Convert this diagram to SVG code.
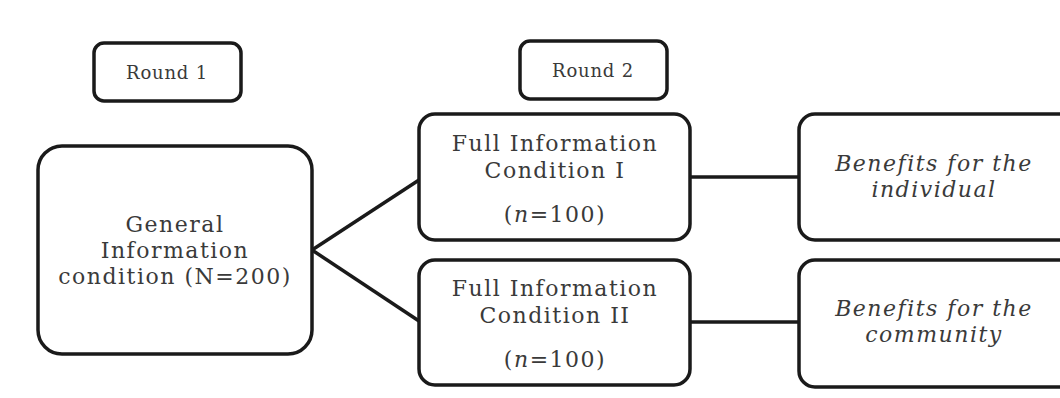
<svg xmlns="http://www.w3.org/2000/svg" width="1060" height="398" viewBox="0 0 1060 398">
<style>
.box{fill:#ffffff;stroke:#1a1a1a;stroke-width:3.5}
.t{font-family:"DejaVu Serif","Liberation Serif",serif;fill:#3a3a3a;text-anchor:middle}
.lbl{font-size:18px;letter-spacing:0.8px}
.m{font-size:22px;letter-spacing:1.5px}
.it{font-style:italic}
.conn{stroke:#1a1a1a;stroke-width:3.5;fill:none}
</style>
<rect width="1060" height="398" fill="#ffffff"/>
<g id="connectors">
<line class="conn" x1="312" y1="250" x2="419" y2="180"/>
<line class="conn" x1="312" y1="250" x2="419" y2="321"/>
<line class="conn" x1="690" y1="177" x2="799" y2="177"/>
<line class="conn" x1="690" y1="322" x2="799" y2="322"/>
</g>
<g id="round1">
<rect class="box" x="94" y="43" width="147" height="58" rx="10"/>
<text class="t lbl" x="167" y="79">Round 1</text>
</g>
<g id="round2">
<rect class="box" x="520" y="41" width="147" height="58" rx="10"/>
<text class="t lbl" x="593" y="77">Round 2</text>
</g>
<g id="general">
<rect class="box" x="38" y="146" width="274" height="208" rx="24"/>
<text class="t m" x="175" y="232">General</text>
<text class="t m" x="175" y="258">Information</text>
<text class="t m" x="175" y="284">condition (N=200)</text>
</g>
<g id="full1">
<rect class="box" x="419" y="114" width="271" height="126" rx="16"/>
<text class="t m" x="555" y="151">Full Information</text>
<text class="t m" x="555" y="178">Condition I</text>
<text class="t m" x="555" y="222">(<tspan class="it">n</tspan>=100)</text>
</g>
<g id="full2">
<rect class="box" x="419" y="260" width="271" height="125" rx="16"/>
<text class="t m" x="555" y="296">Full Information</text>
<text class="t m" x="555" y="323">Condition II</text>
<text class="t m" x="555" y="367">(<tspan class="it">n</tspan>=100)</text>
</g>
<g id="benefits-individual">
<rect class="box" x="799" y="114" width="290" height="126" rx="16"/>
<text class="t m it" x="934" y="171">Benefits for the</text>
<text class="t m it" x="934" y="197">individual</text>
</g>
<g id="benefits-community">
<rect class="box" x="799" y="260" width="290" height="127" rx="16"/>
<text class="t m it" x="934" y="316">Benefits for the</text>
<text class="t m it" x="934" y="342">community</text>
</g>
</svg>
